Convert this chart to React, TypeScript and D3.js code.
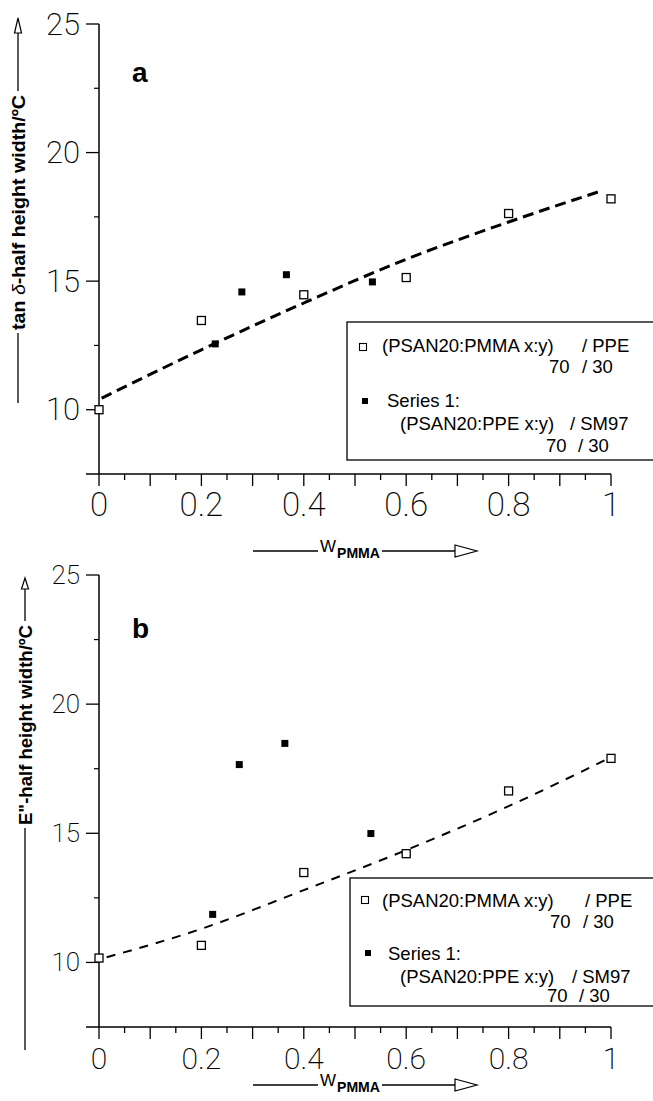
import React from 'react';
import * as d3 from 'd3';

// ---------- data ----------
const xTicksMajor = [0, 0.2, 0.4, 0.6, 0.8, 1];
const xTickLabels = ['0', '0.2', '0.4', '0.6', '0.8', '1'];
const yTicksMajor = [10, 15, 20, 25];
const yTickLabels = ['10', '15', '20', '25'];
const yMinorTicks = [12.5, 17.5, 22.5];

// panel a (tan delta half height width)
const aOpenX = [0, 0.2, 0.4, 0.6, 0.8, 1.0];
const aOpenY = [10.0, 13.47, 14.47, 15.14, 17.63, 18.2];
const aFilledX = [0.227, 0.279, 0.366, 0.534];
const aFilledY = [12.56, 14.58, 15.25, 14.97];
const aFitX = [0.005, 0.2, 0.4, 0.6, 0.8, 0.975];
const aFitY = [10.45, 12.33, 14.15, 15.85, 17.3, 18.47];

// panel b (E'' half height width)
const bOpenX = [0, 0.2, 0.4, 0.6, 0.8, 1.0];
const bOpenY = [10.17, 10.66, 13.48, 14.21, 16.64, 17.9];
const bFilledX = [0.222, 0.274, 0.363, 0.531];
const bFilledY = [11.86, 17.66, 18.48, 14.99];
const bFitX = [0.015, 0.2, 0.4, 0.6, 0.8, 0.99];
const bFitY = [10.2, 11.3, 12.8, 14.35, 16.05, 17.85];

const legendOpenMain = '(PSAN20:PMMA x:y)';
const legendOpenTail = '/ PPE';
const legendFilledTitle = 'Series 1:';
const legendFilledMain = '(PSAN20:PPE x:y)';
const legendFilledTail = '/ SM97';
const legendRatioA = '70';
const legendRatioB = '/ 30';

const THIN = "Roboto, 'Liberation Sans', Arial, sans-serif";
const SANS = "'Liberation Sans', Arial, Helvetica, sans-serif";

type Rows = {
  mo: [number, number]; mf: [number, number];
  t1: number; r1: number; st: number; t2: number; r2: number;
  x1: number; xTail1: number; xR1a: number; xR1b: number; xSt: number; x2: number; xTail2: number; xR2a: number; xR2b: number;
};

type Cfg = {
  yTop: number; yBottom: number;
  letter: string; letterY: number;
  yTickSize: number; xTickSize: number; xLabelY: number;
  openX: number[]; openY: number[]; filledX: number[]; filledY: number[];
  fitX: number[]; fitY: number[]; fitWidth: number; fitDash: string;
  yLabel: React.ReactNode; yLabelX: number; yLabelLen: number; yLabelTop: number; yLabelBottom: number;
  yLineX: number; arrowTip: number; arrowBase: number; lowerLineEnd: number;
  xAxisLabelY: number;
  legTop: number; legLeft: number; legH: number;
  rows: Rows;
};

function Panel({ c }: { c: Cfg }) {
  const x = d3.scaleLinear().domain([0, 1]).range([99, 611]);
  const y = d3.scaleLinear().domain([7.5, 25]).range([c.yBottom, c.yTop]);
  const line = d3.line<number>()
    .x((_, i) => x(c.fitX[i]))
    .y((_, i) => y(c.fitY[i]))
    .curve(d3.curveMonotoneX);
  const minorX = d3.range(0, 21).map((i) => i * 0.05);
  const r = c.rows;
  const yMid = (c.yLabelTop + c.yLabelBottom) / 2;
  return (
    <g>
      {/* axes */}
      <line x1={x(0)} x2={x(0)} y1={y(25)} y2={y(7.5)} stroke="#000" strokeWidth={1.5} />
      <line x1={86} x2={x(1)} y1={y(7.5)} y2={y(7.5)} stroke="#000" strokeWidth={1.5} />
      {yTicksMajor.map((v) => (
        <line key={'ym' + v} x1={86} x2={x(0)} y1={y(v)} y2={y(v)} stroke="#000" strokeWidth={1.3} />
      ))}
      {yMinorTicks.map((v) => (
        <line key={'yn' + v} x1={94} x2={x(0)} y1={y(v)} y2={y(v)} stroke="#000" strokeWidth={1.2} />
      ))}
      {minorX.map((v, i) => (
        <line key={'xt' + i} x1={x(v)} x2={x(v)} y1={y(7.5)} y2={y(7.5) + (i % 2 === 0 ? 12 : 6)} stroke="#000" strokeWidth={1.3} />
      ))}
      {yTicksMajor.map((v, i) => (
        <text key={'yl' + v} x={80} y={y(v)} textAnchor="end" dominantBaseline="central"
          fontFamily={THIN} fontWeight={200} fontSize={c.yTickSize}>{yTickLabels[i]}</text>
      ))}
      {xTicksMajor.map((v, i) => (
        <text key={'xl' + v} x={x(v)} y={c.xLabelY} textAnchor="middle" dominantBaseline="central"
          fontFamily={THIN} fontWeight={200} fontSize={c.xTickSize}>{xTickLabels[i]}</text>
      ))}
      {/* panel letter */}
      <text x={132} y={c.letterY} fontFamily={SANS} fontWeight="bold" fontSize={28}>{c.letter}</text>
      {/* fit curve */}
      <path d={line(c.fitX) || ''} fill="none" stroke="#000" strokeWidth={c.fitWidth} strokeDasharray={c.fitDash} />
      {/* markers */}
      {c.openX.map((v, i) => (
        <rect key={'o' + i} x={x(v) - 4} y={y(c.openY[i]) - 4} width={8} height={8} fill="#fff" stroke="#000" strokeWidth={1.3} />
      ))}
      {c.filledX.map((v, i) => (
        <rect key={'f' + i} x={x(v) - 3.5} y={y(c.filledY[i]) - 3.5} width={7} height={7} fill="#000" />
      ))}
      {/* y axis label */}
      <line x1={c.yLineX} x2={c.yLineX} y1={c.arrowBase} y2={c.yLabelTop - 4} stroke="#000" strokeWidth={1.3} />
      <line x1={c.yLineX} x2={c.yLineX} y1={c.yLabelBottom + 3} y2={c.lowerLineEnd} stroke="#000" strokeWidth={1.3} />
      <polygon points={`${c.yLineX},${c.arrowTip} ${c.yLineX - 3.5},${c.arrowBase} ${c.yLineX + 3.5},${c.arrowBase}`} fill="#fff" stroke="#000" strokeWidth={1.2} />
      <text transform={`translate(${c.yLabelX},${yMid}) rotate(-90)`} textAnchor="middle" fontFamily={SANS}
        fontWeight="bold" fontSize={19} textLength={c.yLabelLen} lengthAdjust="spacingAndGlyphs">{c.yLabel}</text>
      {/* x axis label */}
      <line x1={253} x2={318} y1={c.xAxisLabelY} y2={c.xAxisLabelY} stroke="#000" strokeWidth={1.3} />
      <text x={320} y={c.xAxisLabelY + 1} fontFamily={SANS} fontSize={17} textLength={16} lengthAdjust="spacingAndGlyphs">W</text>
      <text x={337} y={c.xAxisLabelY + 7} fontFamily={SANS} fontWeight="bold" fontSize={15} textLength={43} lengthAdjust="spacingAndGlyphs">PMMA</text>
      <line x1={382} x2={455} y1={c.xAxisLabelY} y2={c.xAxisLabelY} stroke="#000" strokeWidth={1.3} />
      <polygon points={`455,${c.xAxisLabelY - 6} 477,${c.xAxisLabelY} 455,${c.xAxisLabelY + 6}`} fill="#fff" stroke="#000" strokeWidth={1.2} />
      {/* legend */}
      <rect x={c.legLeft} y={c.legTop} width={400} height={c.legH} fill="#fff" stroke="#000" strokeWidth={1.3} />
      <rect x={r.mo[0] - 3.5} y={r.mo[1] - 3.5} width={7} height={7} fill="#fff" stroke="#000" strokeWidth={1.1} />
      <g fontFamily={SANS} fontSize={18.5}>
        <text x={r.x1} y={r.t1}>{legendOpenMain}</text>
        <text x={r.xTail1} y={r.t1}>{legendOpenTail}</text>
        <text x={r.xR1a} y={r.r1}>{legendRatioA}</text>
        <text x={r.xR1b} y={r.r1}>{legendRatioB}</text>
        <text x={r.xSt} y={r.st}>{legendFilledTitle}</text>
        <text x={r.x2} y={r.t2}>{legendFilledMain}</text>
        <text x={r.xTail2} y={r.t2}>{legendFilledTail}</text>
        <text x={r.xR2a} y={r.r2}>{legendRatioA}</text>
        <text x={r.xR2b} y={r.r2}>{legendRatioB}</text>
      </g>
      <rect x={r.mf[0] - 3} y={r.mf[1] - 3} width={6} height={6} fill="#000" />
    </g>
  );
}

const cfgA: Cfg = {
  yTop: 24, yBottom: 474, letter: 'a', letterY: 82,
  yTickSize: 31, xTickSize: 33, xLabelY: 504,
  openX: aOpenX, openY: aOpenY, filledX: aFilledX, filledY: aFilledY,
  fitX: aFitX, fitY: aFitY, fitWidth: 3, fitDash: '11,6',
  yLabel: (<>tan <tspan fontStyle="italic" fontWeight="normal">δ</tspan>-half height width/ºC</>),
  yLabelX: 25, yLabelLen: 235, yLabelTop: 95, yLabelBottom: 330,
  yLineX: 18, arrowTip: 18, arrowBase: 33, lowerLineEnd: 403,
  xAxisLabelY: 551,
  legTop: 322, legLeft: 347, legH: 138,
  rows: { mo: [363, 347], mf: [365, 401], t1: 352, r1: 373, st: 407, t2: 430, r2: 452,
    x1: 382, xTail1: 582, xR1a: 549, xR1b: 582, xSt: 387, x2: 400, xTail2: 570, xR2a: 546, xR2b: 578 },
};

const cfgB: Cfg = {
  yTop: 575, yBottom: 1027, letter: 'b', letterY: 638,
  yTickSize: 26, xTickSize: 30, xLabelY: 1058,
  openX: bOpenX, openY: bOpenY, filledX: bFilledX, filledY: bFilledY,
  fitX: bFitX, fitY: bFitY, fitWidth: 2, fitDash: '9,8',
  yLabel: 'E"-half height width/ºC',
  yLabelX: 32, yLabelLen: 200, yLabelTop: 625, yLabelBottom: 825,
  yLineX: 25, arrowTip: 578, arrowBase: 589, lowerLineEnd: 1050,
  xAxisLabelY: 1085,
  legTop: 878, legLeft: 350, legH: 128,
  rows: { mo: [365, 900], mf: [368, 953], t1: 907, r1: 928, st: 960, t2: 983, r2: 1002,
    x1: 382, xTail1: 585, xR1a: 550, xR1b: 583, xSt: 388, x2: 400, xTail2: 572, xR2a: 547, xR2b: 579 },
};

export default function App() {
  return (
    <svg width={653} height={1101} viewBox="0 0 653 1101"
      style={{ position: 'absolute', left: 0, top: 0, background: '#fff' }}>
      <rect x={0} y={0} width={653} height={1101} fill="#fff" />
      <Panel c={cfgA} />
      <Panel c={cfgB} />
    </svg>
  );
}
